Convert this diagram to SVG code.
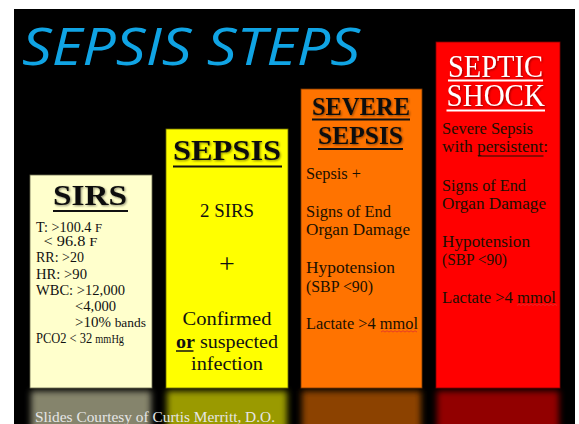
<svg xmlns="http://www.w3.org/2000/svg" width="579" height="424" viewBox="0 0 579 424">
<defs>
<style>
.serif{font-family:"Liberation Serif","Times New Roman",serif;}
.body{font-size:16px;fill:#1a1000;}
.sirs{font-size:14.5px;fill:#111;}
.ttl{font-weight:bold;fill:#111;}
.ul{stroke-width:2;}
.squig{fill:none;stroke:#e03030;stroke-width:0.8;}
</style>
<filter id="blur" x="-20%" y="-20%" width="140%" height="140%"><feGaussianBlur stdDeviation="3"/></filter>
<filter id="sh" x="-10%" y="-10%" width="130%" height="130%"><feDropShadow dx="1" dy="1" stdDeviation="0.8" flood-color="#000" flood-opacity="0.45"/></filter>
</defs>
<rect x="0" y="0" width="579" height="424" fill="#ffffff"/>
<rect x="14" y="9" width="561" height="415" fill="#000000"/>

<text x="22" y="65" font-family="'Open Sans',sans-serif" font-style="italic" font-size="52" fill="#10a4e4" textLength="338" lengthAdjust="spacingAndGlyphs">SEPSIS STEPS</text>

<g id="reflections" filter="url(#blur)">
<rect x="31" y="391" width="120" height="40" fill="#85846c"/>
<rect x="167" y="391" width="120" height="40" fill="#9a9a00"/>
<rect x="302" y="391" width="119" height="40" fill="#8c4200"/>
<rect x="437" y="391" width="122" height="40" fill="#920000"/>
</g>

<g id="sirs" class="serif">
<rect x="30" y="175" width="122" height="213" fill="#ffffcc" stroke="#6b6b50" stroke-width="0.8"/>
<text x="53" y="205" class="ttl" font-size="30" filter="url(#sh)" textLength="74" lengthAdjust="spacingAndGlyphs">SIRS</text>
<line x1="53" y1="211" x2="128" y2="211" stroke="#111" class="ul"/>
<text class="sirs" x="36" y="232" textLength="66" lengthAdjust="spacingAndGlyphs">T: &gt;100.4 <tspan font-size="13">F</tspan></text>
<text class="sirs" x="43.5" y="245.5" textLength="54" lengthAdjust="spacingAndGlyphs">&lt; 96.8 <tspan font-size="13">F</tspan></text>
<text class="sirs" x="36" y="262" textLength="48" lengthAdjust="spacingAndGlyphs">RR: &gt;20</text>
<text class="sirs" x="36" y="278.5" textLength="51" lengthAdjust="spacingAndGlyphs">HR: &gt;90</text>
<text class="sirs" x="36" y="295" textLength="89" lengthAdjust="spacingAndGlyphs">WBC: &gt;12,000</text>
<text class="sirs" x="75" y="311" textLength="41" lengthAdjust="spacingAndGlyphs">&lt;4,000</text>
<text class="sirs" x="75" y="327" textLength="71" lengthAdjust="spacingAndGlyphs">&gt;10% <tspan font-size="13">bands</tspan></text>
<text class="sirs" x="36" y="343" font-size="14" textLength="88" lengthAdjust="spacingAndGlyphs">PCO2 &lt; 32 <tspan font-size="12">mmHg</tspan></text>
</g>

<g id="sepsis" class="serif">
<rect x="166" y="129" width="122" height="259" fill="#ffff00" stroke="#6b6b00" stroke-width="0.8"/>
<text x="173" y="160" class="ttl" font-size="30" filter="url(#sh)" textLength="108" lengthAdjust="spacingAndGlyphs">SEPSIS</text>
<line x1="173" y1="166.5" x2="282" y2="166.5" stroke="#111" class="ul"/>
<text x="227" y="216.5" font-size="18" fill="#111" text-anchor="middle" textLength="54" lengthAdjust="spacingAndGlyphs">2 SIRS</text>
<text x="227" y="273" font-size="28" fill="#111" text-anchor="middle">+</text>
<text x="227" y="325" font-size="18" fill="#111" text-anchor="middle" textLength="89" lengthAdjust="spacingAndGlyphs">Confirmed</text>
<text x="176" y="347.5" font-size="18" fill="#111" textLength="102" lengthAdjust="spacingAndGlyphs"><tspan font-weight="bold">or</tspan> suspected</text>
<line x1="176" y1="351" x2="193.5" y2="351" stroke="#111" stroke-width="1.5"/>
<text x="227" y="369.5" font-size="18" fill="#111" text-anchor="middle" textLength="72" lengthAdjust="spacingAndGlyphs">infection</text>
</g>

<g id="severe-sepsis" class="serif">
<rect x="301" y="89" width="121" height="299" fill="#ff7300" stroke="#7a3800" stroke-width="0.8"/>
<text x="312" y="115" class="ttl" font-size="25" filter="url(#sh)" textLength="98" lengthAdjust="spacingAndGlyphs">SEVERE</text>
<line x1="312" y1="119.5" x2="410" y2="119.5" stroke="#111" class="ul"/>
<text x="318" y="143.5" class="ttl" font-size="25" filter="url(#sh)" textLength="85" lengthAdjust="spacingAndGlyphs">SEPSIS</text>
<line x1="318" y1="149" x2="403" y2="149" stroke="#111" class="ul"/>
<text class="body" x="306" y="179" textLength="55" lengthAdjust="spacingAndGlyphs">Sepsis +</text>
<text class="body" x="306" y="216.5" textLength="85" lengthAdjust="spacingAndGlyphs">Signs of End</text>
<text class="body" x="306" y="235" textLength="104" lengthAdjust="spacingAndGlyphs">Organ Damage</text>
<text class="body" x="306" y="273" textLength="89" lengthAdjust="spacingAndGlyphs">Hypotension</text>
<text class="body" x="306" y="291.5" textLength="67" lengthAdjust="spacingAndGlyphs">(SBP &lt;90)</text>
<text class="body" x="306" y="329" textLength="112" lengthAdjust="spacingAndGlyphs">Lactate &gt;4 mmol</text>
<path class="squig" d="M381 332 l2 -1.2 l2 1.2 l2 -1.2 l2 1.2 l2 -1.2 l2 1.2 l2 -1.2 l2 1.2 l2 -1.2 l2 1.2 l2 -1.2 l2 1.2 l2 -1.2 l2 1.2 l2 -1.2 l2 1.2 l2 -1.2 l2 1.2"/>
</g>

<g id="septic-shock" class="serif">
<rect x="436" y="42" width="124" height="346" fill="#ff0000" stroke="#800000" stroke-width="0.8"/>
<text x="448" y="76.5" font-size="31" fill="#ffffff" filter="url(#sh)" textLength="95" lengthAdjust="spacingAndGlyphs">SEPTIC</text>
<line x1="448" y1="80.5" x2="543" y2="80.5" stroke="#ffffff" class="ul"/>
<text x="446.5" y="106" font-size="31" fill="#ffffff" filter="url(#sh)" textLength="98.5" lengthAdjust="spacingAndGlyphs">SHOCK</text>
<line x1="446.5" y1="110.5" x2="545" y2="110.5" stroke="#ffffff" class="ul"/>
<text class="body" x="442" y="134" textLength="91" lengthAdjust="spacingAndGlyphs">Severe Sepsis</text>
<text class="body" x="442" y="152" textLength="106" lengthAdjust="spacingAndGlyphs">with persistent:</text>
<line x1="478" y1="156" x2="543.5" y2="156" stroke="#1a1000" stroke-width="1.2"/>
<text class="body" x="442" y="190.5" textLength="84" lengthAdjust="spacingAndGlyphs">Signs of End</text>
<text class="body" x="442" y="209" textLength="104" lengthAdjust="spacingAndGlyphs">Organ Damage</text>
<text class="body" x="442" y="246.5" textLength="88" lengthAdjust="spacingAndGlyphs">Hypotension</text>
<text class="body" x="442" y="265" textLength="65" lengthAdjust="spacingAndGlyphs">(SBP &lt;90)</text>
<text class="body" x="442" y="302.5" textLength="114" lengthAdjust="spacingAndGlyphs">Lactate &gt;4 mmol</text>
<path class="squig" d="M517 305.5 l2 -1.2 l2 1.2 l2 -1.2 l2 1.2 l2 -1.2 l2 1.2 l2 -1.2 l2 1.2 l2 -1.2 l2 1.2 l2 -1.2 l2 1.2 l2 -1.2 l2 1.2 l2 -1.2 l2 1.2 l2 -1.2 l2 1.2 l2 -1.2 l2 1.2"/>
</g>

<text x="35" y="421.5" class="serif" font-size="14" fill="#e6e6e6" textLength="240" lengthAdjust="spacingAndGlyphs">Slides Courtesy of Curtis Merritt, D.O.</text>
</svg>
